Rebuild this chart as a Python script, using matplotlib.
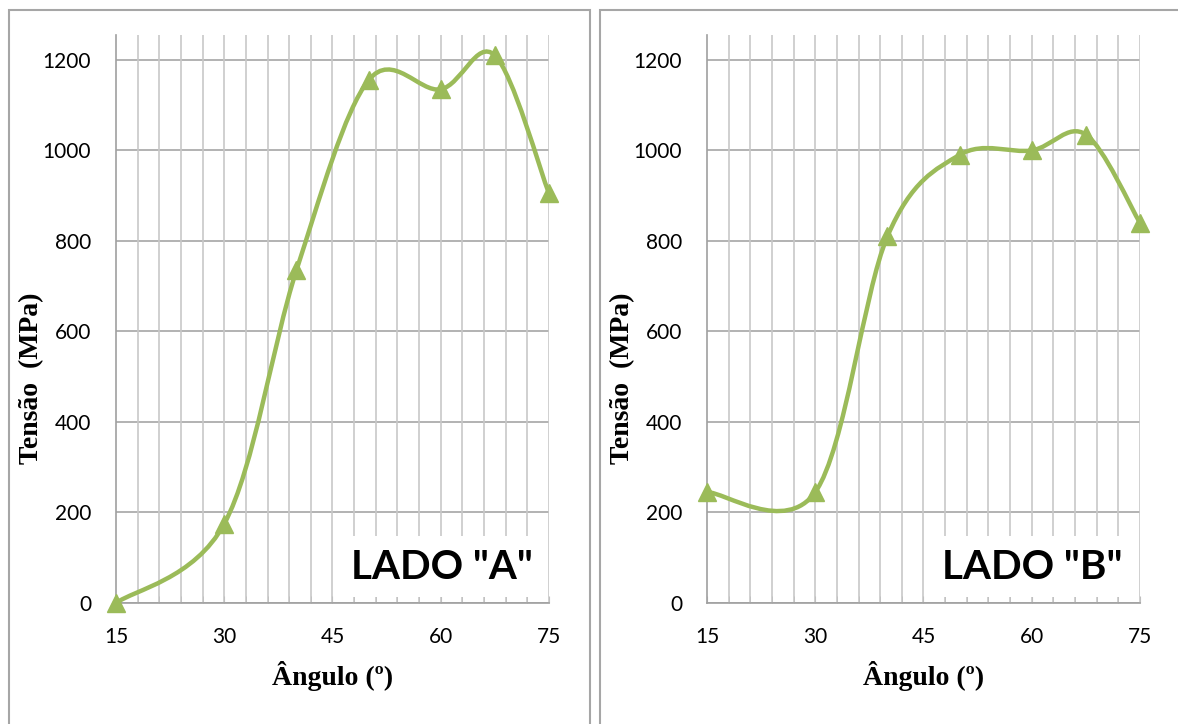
import numpy as np
import matplotlib
matplotlib.use("Agg")
import matplotlib.pyplot as plt
from matplotlib.path import Path
from matplotlib.patches import PathPatch, Rectangle

# data
angulo = [15, 30, 40, 50, 60, 67.5, 75]
tensao_a = [0, 175, 735, 1155, 1135, 1210, 905]
tensao_b = [245, 245, 810, 990, 1000, 1035, 840]
x_ticks = [15, 30, 45, 60, 75]
y_ticks = [0, 200, 400, 600, 800, 1000, 1200]
labels = ['LADO "A"', 'LADO "B"']

GREEN = "#9BBB59"


def smooth_path(xs, ys):
    # Excel-like smoothed line: Catmull-Rom segments as cubic Beziers
    pts = np.column_stack([xs, ys]).astype(float)
    n = len(pts)
    verts = [pts[0]]
    codes = [Path.MOVETO]
    for i in range(n - 1):
        p0 = pts[i - 1] if i > 0 else pts[i]
        p1 = pts[i]
        p2 = pts[i + 1]
        p3 = pts[i + 2] if i + 2 < n else pts[i + 1]
        c1 = p1 + (p2 - p0) / 6
        c2 = p2 - (p3 - p1) / 6
        verts += [c1, c2, p2]
        codes += [Path.CURVE4] * 3
    return Path(verts, codes)


fig = plt.figure(figsize=(11.78, 7.24), dpi=100)

# chart area frames
for x0, w in [(9, 581), (600, 590)]:
    fig.patches.append(Rectangle((x0 / 1178, -0.05), w / 1178, 1 - 10 / 724 + 0.05,
                                 transform=fig.transFigure, fill=False,
                                 edgecolor="#A6A6A6", linewidth=1.5))

positions = [0.0985, 0.6002]
for left, ys, lab in zip(positions, [tensao_a, tensao_b], labels):
    ax = fig.add_axes([left, 0.1671, 0.3675, 0.7846])
    ax.set_xlim(15, 75)
    ax.set_ylim(0, 1255)

    # grid: horizontal majors, vertical every 3 degrees
    for y in y_ticks:
        ax.axhline(y, color="#A6A6A6", linewidth=1.2, zorder=1)
    for x in np.arange(18, 76, 3):
        ax.axvline(x, color="#C8C8C8", linewidth=1.2, zorder=1)

    for s in ["top", "right"]:
        ax.spines[s].set_visible(False)
    for s in ["left", "bottom"]:
        ax.spines[s].set_color("#A0A0A0")
        ax.spines[s].set_linewidth(1.2)

    ax.set_xticks(x_ticks)
    ax.set_xticks(np.arange(15, 76, 3), minor=True)
    ax.set_yticks(y_ticks)
    ax.tick_params(axis="x", which="both", direction="in", length=5,
                   color="#C0C0C0", pad=17)
    ax.tick_params(axis="y", length=0, pad=18)
    for t in ax.get_xticklabels() + ax.get_yticklabels():
        t.set_fontfamily("Lato")
        t.set_fontsize(15)

    # label box covering the grid
    ax.add_patch(Rectangle((0.505, 0.0105), 0.488, 0.108, transform=ax.transAxes,
                           facecolor="white", edgecolor="none", zorder=2))
    ax.text(0.752, 0.063, lab, transform=ax.transAxes, ha="center", va="center",
            fontfamily="Lato", fontweight="bold", fontsize=29, zorder=3)

    ax.add_patch(PathPatch(smooth_path(angulo, ys), facecolor="none",
                           edgecolor=GREEN, linewidth=3.2, zorder=4, clip_on=False))
    ax.plot(angulo, ys, linestyle="none", marker="^", markersize=13,
            color=GREEN, zorder=5, clip_on=False)

    ax.set_xlabel("Ângulo (º)", fontfamily="Liberation Serif", fontweight="bold",
                  fontsize=20, labelpad=10)
    ax.set_ylabel("Tensão  (MPa)", fontfamily="Liberation Serif", fontweight="bold",
                  fontsize=20, va="center")
    ax.yaxis.set_label_coords(-0.196, 0.396)

fig.savefig("out.png", dpi=100)
